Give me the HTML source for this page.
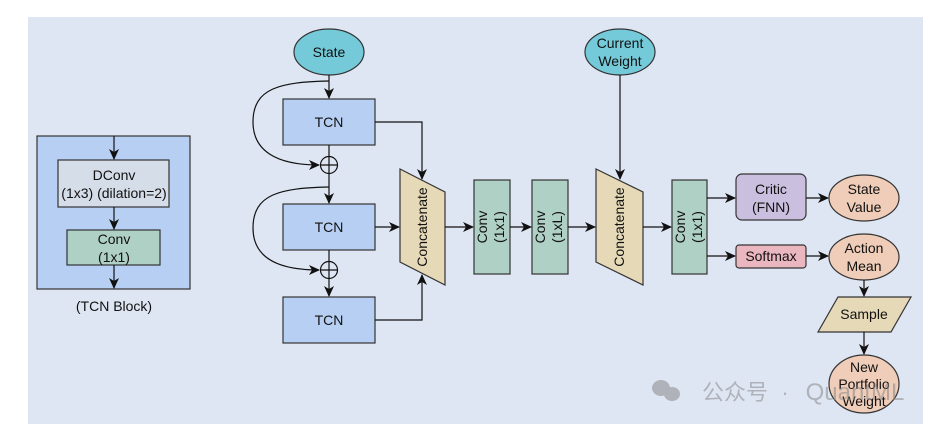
<!DOCTYPE html>
<html><head><meta charset="utf-8"><style>
html,body{margin:0;padding:0;background:#fff;}
svg{display:block;}
text{font-family:"Liberation Sans","Noto Sans CJK SC",sans-serif;font-size:14px;fill:#111;text-anchor:middle;}
</style></head><body>
<svg width="946" height="430" viewBox="0 0 946 430" xmlns="http://www.w3.org/2000/svg">
<defs>
<marker id="a" markerWidth="12" markerHeight="12" refX="10" refY="6" orient="auto" markerUnits="userSpaceOnUse">
<path d="M0,1 L11,6 L0,11 L3,6 Z" fill="#111"/></marker>
</defs>
<rect x="28" y="17" width="895" height="407" fill="#dfe6f3"/>
<g stroke="#333" stroke-width="1.2">
<rect x="37" y="136" width="153" height="153" fill="#b7cff2"/>
<rect x="58" y="160" width="111" height="47" fill="#d5dde9"/>
<rect x="67" y="230" width="93" height="35" fill="#afd0c5"/>
</g>
<g stroke="#111" stroke-width="1.2" fill="none">
<line x1="114" y1="136" x2="114" y2="159" marker-end="url(#a)"/>
<line x1="114" y1="207" x2="114" y2="229" marker-end="url(#a)"/>
<line x1="114" y1="265" x2="114" y2="288" marker-end="url(#a)"/>
</g>
<text x="114" y="180">DConv</text>
<text x="114" y="198">(1x3) (dilation=2)</text>
<text x="114" y="244">Conv</text>
<text x="114" y="262">(1x1)</text>
<text x="114" y="311">(TCN Block)</text>

<g stroke="#333" stroke-width="1.2">
<ellipse cx="329" cy="52" rx="35" ry="23" fill="#74cad9"/>
<ellipse cx="620" cy="52" rx="35" ry="23" fill="#74cad9"/>
<rect x="283" y="99" width="92" height="46" fill="#b7cff2"/>
<rect x="283" y="204" width="92" height="46" fill="#b7cff2"/>
<rect x="283" y="297" width="92" height="46" fill="#b7cff2"/>
<polygon points="400,169 445,192 445,285 400,262" fill="#e6d9b8"/>
<polygon points="596,169 643,192 643,285 596,262" fill="#e6d9b8"/>
<rect x="474" y="180" width="36" height="94" fill="#afd0c5"/>
<rect x="532" y="180" width="36" height="94" fill="#afd0c5"/>
<rect x="672" y="180" width="35" height="94" fill="#afd0c5"/>
<rect x="736" y="174" width="70" height="46" rx="6" fill="#cbbfe0"/>
<rect x="736" y="245" width="70" height="23" rx="3" fill="#eab6c0"/>
<ellipse cx="864" cy="198" rx="35" ry="23" fill="#efcdb8"/>
<ellipse cx="864" cy="257" rx="35" ry="23" fill="#efcdb8"/>
<polygon points="838,297 911,297 891,332 818,332" fill="#e6d9b8"/>
<ellipse cx="864" cy="384" rx="35" ry="29" fill="#efcdb8"/>
</g>
<g stroke="#111" stroke-width="1.2" fill="none">
<circle cx="329" cy="165" r="8.5"/><line x1="320.5" y1="165" x2="337.5" y2="165"/><line x1="329" y1="156.5" x2="329" y2="173.5"/>
<circle cx="329" cy="270" r="8.5"/><line x1="320.5" y1="270" x2="337.5" y2="270"/><line x1="329" y1="261.5" x2="329" y2="278.5"/>
<line x1="329" y1="75" x2="329" y2="98" marker-end="url(#a)"/>
<line x1="329" y1="145" x2="329" y2="156"/>
<line x1="329" y1="173" x2="329" y2="203" marker-end="url(#a)"/>
<line x1="329" y1="250" x2="329" y2="261"/>
<line x1="329" y1="278" x2="329" y2="296" marker-end="url(#a)"/>
<path d="M329,81 C280,82 253,88 253,122 C253,150 275,165 319,165" marker-end="url(#a)"/>
<path d="M329,187 C280,188 253,194 253,228 C253,256 275,270 319,270" marker-end="url(#a)"/>
<polyline points="375,122 422,122 422,179" marker-end="url(#a)"/>
<line x1="375" y1="227" x2="399" y2="227" marker-end="url(#a)"/>
<polyline points="375,320 422,320 422,275" marker-end="url(#a)"/>
<line x1="445" y1="227" x2="473" y2="227" marker-end="url(#a)"/>
<line x1="510" y1="227" x2="531" y2="227" marker-end="url(#a)"/>
<line x1="568" y1="227" x2="595" y2="227" marker-end="url(#a)"/>
<line x1="620" y1="75" x2="620" y2="179" marker-end="url(#a)"/>
<line x1="643" y1="227" x2="671" y2="227" marker-end="url(#a)"/>
<line x1="707" y1="198" x2="735" y2="198" marker-end="url(#a)"/>
<line x1="707" y1="256" x2="735" y2="256" marker-end="url(#a)"/>
<line x1="806" y1="198" x2="828" y2="198" marker-end="url(#a)"/>
<line x1="806" y1="256" x2="828" y2="256" marker-end="url(#a)"/>
<line x1="864" y1="280" x2="864" y2="296" marker-end="url(#a)"/>
<line x1="864" y1="332" x2="864" y2="354" marker-end="url(#a)"/>
</g>
<text x="329" y="57">State</text>
<text x="620" y="48">Current</text>
<text x="620" y="66">Weight</text>
<text x="329" y="127">TCN</text>
<text x="329" y="232">TCN</text>
<text x="329" y="325">TCN</text>
<text transform="translate(427,227) rotate(-90)">Concatenate</text>
<text transform="translate(624,227) rotate(-90)">Concatenate</text>
<text transform="translate(487,227) rotate(-90)">Conv</text>
<text transform="translate(504,227) rotate(-90)">(1x1)</text>
<text transform="translate(545,227) rotate(-90)">Conv</text>
<text transform="translate(562,227) rotate(-90)">(1xL)</text>
<text transform="translate(685,227) rotate(-90)">Conv</text>
<text transform="translate(702,227) rotate(-90)">(1x1)</text>
<text x="771" y="194">Critic</text>
<text x="771" y="212">(FNN)</text>
<text x="771" y="261">Softmax</text>
<text x="864" y="194">State</text>
<text x="864" y="212">Value</text>
<text x="864" y="253">Action</text>
<text x="864" y="271">Mean</text>
<text x="864" y="319">Sample</text>
<text x="864" y="372">New</text>
<text x="864" y="389">Portfolio</text>
<text x="864" y="406">Weight</text>
<g opacity="0.55">
<ellipse cx="661" cy="388" rx="9" ry="8" fill="#888"/>
<ellipse cx="672" cy="394" rx="8" ry="7" fill="#888"/>
<text x="735" y="400" style="font-size:22px;fill:#888">公众号</text>
<text x="785" y="400" style="font-size:22px;fill:#888">·</text>
<text x="855" y="400" style="font-size:24px;fill:#888">QuantML</text>
</g>
</svg>
</body></html>
